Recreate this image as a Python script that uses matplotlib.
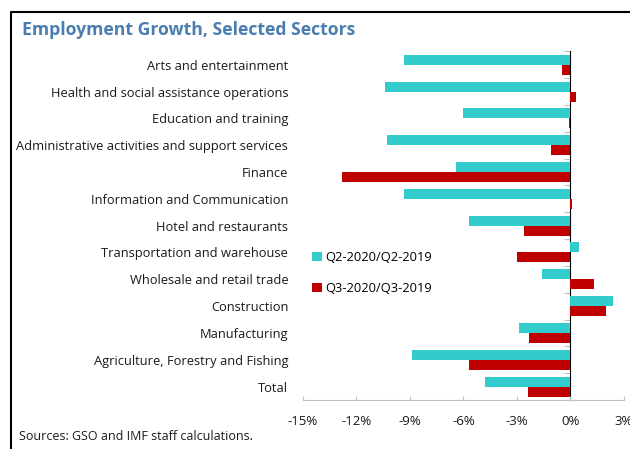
import matplotlib
matplotlib.use('Agg')
import matplotlib.pyplot as plt
from matplotlib.lines import Line2D
import numpy as np

plt.rcParams['font.family'] = ['Open Sans', 'DejaVu Sans']

# Sectors, top to bottom
sectors = [
    'Arts and entertainment',
    'Health and social assistance operations',
    'Education and training',
    'Administrative activities and support services',
    'Finance',
    'Information and Communication',
    'Hotel and restaurants',
    'Transportation and warehouse',
    'Wholesale and retail trade',
    'Construction',
    'Manufacturing',
    'Agriculture, Forestry and Fishing',
    'Total',
]
# Year-on-year employment growth, percent
q2_growth = [-9.3, -10.4, -6.0, -10.3, -6.4, -9.3, -5.7, 0.5, -1.6, 2.4, -2.9, -8.9, -4.8]
q3_growth = [-0.5, 0.3, -0.1, -1.1, -12.8, 0.1, -2.6, -3.0, 1.3, 2.0, -2.3, -5.7, -2.4]

x_ticks = [-15, -12, -9, -6, -3, 0, 3]
x_labels = ['-15%', '-12%', '-9%', '-6%', '-3%', '0%', '3%']

cyan = '#33CCCC'
red = '#C00000'
grey = '#BFBFBF'

fig = plt.figure(figsize=(6.3, 4.49), dpi=100)
ax = fig.add_axes([0.4805, 0.1091, 0.51, 0.7766])

pos = np.arange(len(sectors))[::-1]
h = 0.373
ax.barh(pos + h / 2, q2_growth, height=h, color=cyan, label='Q2-2020/Q2-2019')
ax.barh(pos - h / 2, q3_growth, height=h, color=red, label='Q3-2020/Q3-2019')

ax.set_xlim(-15, 3)
ax.set_ylim(-0.5, len(sectors) - 0.5)
ax.set_xticks(x_ticks, x_labels)
ax.set_yticks(pos, sectors)

for s in ['top', 'right', 'left']:
    ax.spines[s].set_visible(False)
ax.spines['bottom'].set_color(grey)
ax.tick_params(axis='x', direction='in', length=3, color=grey, pad=11,
               labelsize=9.5, labelcolor='#1a1a1a')
ax.tick_params(axis='y', length=0, pad=10.5, labelsize=9.3, labelcolor='#1a1a1a')

# category axis drawn along the zero line
zero = (0 - x_ticks[0]) / (x_ticks[-1] - x_ticks[0])
sec = ax.secondary_yaxis(zero)
sec.set_yticks(np.arange(-0.5, len(sectors), 1.0), [])
sec.tick_params(direction='in', length=4, color=grey)
sec.spines['left'].set_color(grey)

ax.legend(loc='upper left', bbox_to_anchor=(0.496, 0.44), bbox_transform=fig.transFigure,
          frameon=False, fontsize=9.3, handlelength=0.7, handleheight=0.7,
          handletextpad=0.3, labelspacing=1.35, borderpad=0, borderaxespad=0)

fig.text(22 / 630, 0.933, 'Employment Growth, Selected Sectors', fontsize=12.7,
         fontweight='bold', color='#4A7EB0', va='center', ha='left')
fig.text(19 / 630, 1 - 436 / 449, 'Sources: GSO and IMF staff calculations.',
         fontsize=9, color='#1a1a1a', va='center', ha='left')

# panel frame, left and top edges
fig.add_artist(Line2D([11 / 630, 11 / 630, 1.0], [0.0, 1 - 12 / 449, 1 - 12 / 449],
                      transform=fig.transFigure, color='black', linewidth=1.5))

fig.savefig('out.png', dpi=100)
